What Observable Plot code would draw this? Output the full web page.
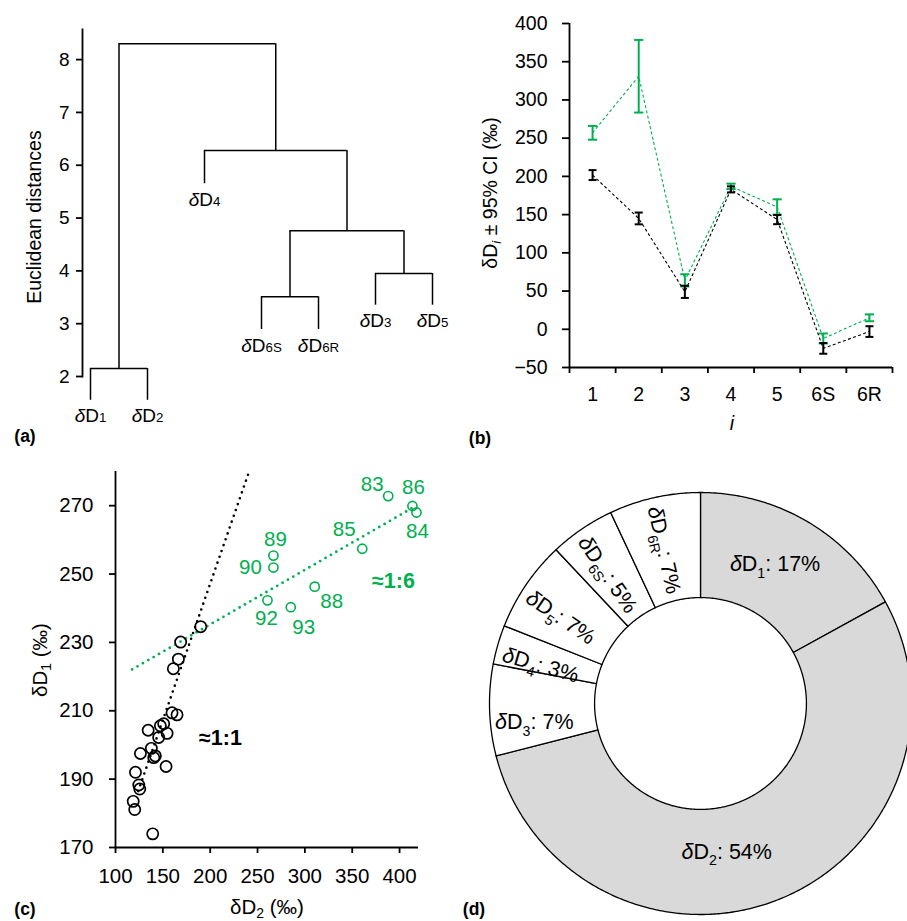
<!DOCTYPE html>
<html>
<head>
<meta charset="utf-8">
<script src="https://cdn.jsdelivr.net/npm/d3@7"></script>
<script src="https://cdn.jsdelivr.net/npm/@observablehq/plot@0.6"></script>
<style>
  html, body { margin: 0; padding: 0; background: #fff; }
  #root { position: relative; width: 907px; height: 921px; overflow: hidden;
          font-family: "Liberation Sans", Arial, sans-serif; color: #000; }
  .panel { position: absolute; }
  .lbl { position: absolute; white-space: nowrap; line-height: 1; transform: translate(-50%, -50%); }
  .rot { transform: translate(-50%, -50%) rotate(-90deg); }
  .lbl sub { font-size: 68%; vertical-align: -0.28em; line-height: 0; }
  .letter { font-weight: bold; font-size: 17.5px; }
</style>
</head>
<body>
<div id="root"></div>
<script>
// ---------------- data ----------------
// (a) dendrogram of site-specific deuterium ratios
const leafNames = ["1", "2", "4", "6S", "6R", "3", "5"];
const leafBase = [1.55, 1.55, 5.65, 2.89, 2.89, 3.35, 3.35];
const mergeLeft = [0, 3, 5, 8, 2, 7];      // node ids (leaves 0-6, merges 7-12)
const mergeRight = [1, 4, 6, 9, 10, 11];
const mergeHeight = [2.15, 3.51, 3.95, 4.76, 6.28, 8.30];
const distTicks = [2, 3, 4, 5, 6, 7, 8];

// (b) δDi ± 95% CI
const positions = ["1", "2", "3", "4", "5", "6S", "6R"];
const blackMean = [201.7, 145, 49, 183, 143.5, -25, -3];
const blackCI = [6.5, 7.7, 8, 4, 6, 7, 7];
const greenMean = [257, 331, 64, 187, 160, -12, 15];
const greenCI = [9, 47.5, 8, 3.5, 10, 6.5, 4.5];
const ciTicks = [-50, 0, 50, 100, 150, 200, 250, 300, 350, 400];

// (c) δD1 vs δD2
const blackD2 = [190, 168.8, 166.4, 161.1, 159.7, 165, 134.5, 147.4, 150.9, 145.6, 154.5, 126.3, 137.9, 140.4, 142.1, 153.4, 121.1, 124.6, 125.6, 118.7, 120.3, 139.3];
const blackD1 = [234.6, 230.1, 225.1, 222.3, 209.4, 208.8, 204.3, 205.6, 206.2, 202.2, 203.4, 197.5, 199, 196.3, 196.8, 193.7, 192, 188.3, 187.1, 183.5, 181.1, 174];
const greenYears = ["83", "86", "84", "85", "89", "90", "88", "92", "93"];
const greenD2 = [388, 413.6, 417.9, 360.6, 266.8, 266.8, 310.4, 260.5, 285.1];
const greenD1 = [272.8, 269.9, 268, 257.4, 255.4, 251.9, 246.3, 242.3, 240.3];
const trendBlackD2 = [124, 240.5];
const trendBlackD1 = [186.5, 279.5];
const trendGreenD2 = [117.6, 412.6];
const trendGreenD1 = [222.1, 269.2];
const ratioText = ["≈1:1", "≈1:6"];
const ratioD2 = [210.8, 393.6];
const ratioD1 = [201.9, 247.9];
const d2Ticks = [100, 150, 200, 250, 300, 350, 400];
const d1Ticks = [170, 190, 210, 230, 250, 270];

// (d) share of each position
const sliceNames = ["1", "2", "3", "4", "5", "6S", "6R"];
const slicePct = [17, 54, 7, 3, 7, 5, 7];

// ---------------- styling ----------------
const GREEN = "#00b050";
const GREY = "#d9d9d9";
const FONT = '"Liberation Sans", Arial, sans-serif';
const AX = 1.8;
const style = (fs) => ({fontFamily: FONT, fontSize: fs + "px", background: "transparent", color: "black"});
const intFmt = d3.format("d");

// rich text: *x* italic, _{x} lowered subscript, ~{x} small on baseline
function richify(root) {
  root.querySelectorAll("text").forEach(t => {
    const s = t.textContent;
    if (!/\*|_\{|~\{/.test(s)) return;
    const fs = parseFloat(getComputedStyle(t).fontSize) || 16;
    while (t.firstChild) t.removeChild(t.firstChild);
    const re = /\*([^*]+)\*|_\{([^}]+)\}|~\{([^}]+)\}|([^*_~]+|[*_~])/g;
    let m, shift = 0;
    while ((m = re.exec(s))) {
      const ts = document.createElementNS("http://www.w3.org/2000/svg", "tspan");
      if (m[1] != null) { ts.textContent = m[1]; ts.setAttribute("font-style", "italic"); }
      else if (m[2] != null) {
        ts.textContent = m[2]; ts.setAttribute("font-size", (fs * 0.66).toFixed(2));
        const d = fs * 0.3; ts.setAttribute("dy", d.toFixed(2)); shift += d;
      }
      else if (m[3] != null) { ts.textContent = m[3]; ts.setAttribute("font-size", (fs * 0.7).toFixed(2)); }
      else { ts.textContent = m[4]; }
      if (m[2] == null && shift) { ts.setAttribute("dy", (-shift).toFixed(2)); shift = 0; }
      t.appendChild(ts);
    }
  });
}

const root = document.getElementById("root");
function place(svg, left, top, w, h) {
  const div = document.createElement("div");
  div.className = "panel";
  div.style.left = left + "px"; div.style.top = top + "px";
  div.style.width = w + "px"; div.style.height = h + "px";
  div.appendChild(svg);
  root.appendChild(div);
  richify(div);
}

// ---------------- (a) dendrogram ----------------
const nodeX = leafNames.map((_, i) => i);
const nodeH = [...leafBase];
mergeHeight.forEach((h, k) => {
  nodeX.push((nodeX[mergeLeft[k]] + nodeX[mergeRight[k]]) / 2);
  nodeH.push(h);
});
const hSegs = mergeHeight.map((h, k) => ({x1: nodeX[mergeLeft[k]], x2: nodeX[mergeRight[k]], y: h}));
const vSegs = mergeHeight.flatMap((h, k) => [mergeLeft[k], mergeRight[k]].map(c => ({x: nodeX[c], y1: nodeH[c], y2: h})));
const leaves = leafNames.map((n, i) => ({n, i, base: leafBase[i]}));

const plotA = Plot.plot({
  width: 460, height: 440,
  marginLeft: 82, marginTop: 29, marginBottom: 64, marginRight: 20,
  x: {domain: [0, 6], range: [90, 432], axis: null},
  y: {domain: [2, 8.57]},
  style: style(19),
  marks: [
    Plot.frame({anchor: "left", strokeWidth: AX}),
    Plot.axisY({ticks: distTicks, tickFormat: intFmt, tickSize: 6, tickPadding: 7, fontSize: 19, label: null, strokeWidth: AX}),
    Plot.ruleY(hSegs, {y: "y", x1: "x1", x2: "x2", strokeWidth: 1.5}),
    Plot.ruleX(vSegs, {x: "x", y1: "y1", y2: "y2", strokeWidth: 1.5}),
    Plot.text(leaves, {x: "i", y: "base", text: d => `*δ*D~{${d.n}}`, dy: 16, lineAnchor: "middle", fontSize: 19})
  ]
});
place(plotA, 0, 0, 460, 440);

// ---------------- (b) error bars ----------------
const rowsB = (mean, ci) => positions.map((p, i) => ({p, xi: i + 0.5, mean: mean[i], lo: mean[i] - ci[i], hi: mean[i] + ci[i]}));
const blackRows = rowsB(blackMean, blackCI);
const greenRows = rowsB(greenMean, greenCI);
const cap = {draw(ctx, size) { const r = Math.sqrt(size / Math.PI); ctx.moveTo(-r, 0); ctx.lineTo(r, 0); }};
const seriesB = (rows, color, capR) => [
  Plot.line(rows, {x: "xi", y: "mean", stroke: color, strokeWidth: 1.1, strokeDasharray: "3,2.4", strokeLinecap: "butt"}),
  Plot.ruleX(rows, {x: "xi", y1: "lo", y2: "hi", stroke: color, strokeWidth: 2}),
  Plot.dot(rows, {x: "xi", y: "lo", symbol: cap, r: capR, stroke: color, strokeWidth: 2, fill: "none"}),
  Plot.dot(rows, {x: "xi", y: "hi", symbol: cap, r: capR, stroke: color, strokeWidth: 2, fill: "none"})
];
const plotB = Plot.plot({
  width: 447, height: 440,
  marginLeft: 109, marginTop: 23, marginBottom: 73, marginRight: 15,
  x: {domain: [0, positions.length]},
  y: {domain: [-50, 400]},
  style: style(19.5),
  marks: [
    Plot.axisY({ticks: ciTicks, tickFormat: intFmt, tickSize: 7, tickPadding: 15, fontSize: 19.5, label: null, strokeWidth: AX}),
    Plot.axisX({ticks: d3.range(0, positions.length + 1), tickSize: 6, tickFormat: () => "", label: null, strokeWidth: AX}),
    Plot.axisX({ticks: positions.map((_, i) => i + 0.5), tickSize: 0, tickPadding: 20, tickFormat: t => positions[Math.round(t - 0.5)], fontSize: 19.5, label: null}),
    Plot.ruleX([0], {strokeWidth: AX}),
    Plot.ruleY([-50], {strokeWidth: AX}),
    ...seriesB(greenRows, GREEN, 4.6),
    ...seriesB(blackRows, "black", 4)
  ]
});
place(plotB, 460, 0, 447, 440);

// ---------------- (c) scatter ----------------
const blackPts = blackD2.map((d2, i) => ({d2, d1: blackD1[i]}));
const greenPts = greenYears.map((yr, i) => ({yr, d2: greenD2[i], d1: greenD1[i]}));
const trendBlack = trendBlackD2.map((d2, i) => ({d2, d1: trendBlackD1[i]}));
const trendGreen = trendGreenD2.map((d2, i) => ({d2, d1: trendGreenD1[i]}));
const yearOffset = {"83": [-16, -12], "86": [1, -19], "84": [1, 19], "85": [-18, -19], "89": [2, -16],
                    "90": [-23, 0], "88": [17, 15], "92": [-1, 18], "93": [13, 20]};
const ratioColor = ["black", GREEN];
const plotC = Plot.plot({
  width: 460, height: 481,
  marginLeft: 115, marginTop: 31, marginBottom: 74, marginRight: 42,
  x: {domain: [100, 420]},
  y: {domain: [170, 280]},
  style: style(20.5),
  marks: [
    Plot.axisX({ticks: d2Ticks, tickFormat: intFmt, tickSize: 6, tickPadding: 15, fontSize: 20.5, label: null, strokeWidth: AX}),
    Plot.axisY({ticks: d1Ticks, tickFormat: intFmt, tickSize: 6, tickPadding: 16, fontSize: 20.5, label: null, strokeWidth: AX}),
    Plot.ruleX([100], {strokeWidth: AX}),
    Plot.ruleY([170], {strokeWidth: AX}),
    Plot.line(trendBlack, {x: "d2", y: "d1", stroke: "black", strokeWidth: 2.6, strokeDasharray: "0,6.2", strokeLinecap: "round"}),
    Plot.line(trendGreen, {x: "d2", y: "d1", stroke: GREEN, strokeWidth: 2.8, strokeDasharray: "0,6.2", strokeLinecap: "round"}),
    Plot.dot(blackPts, {x: "d2", y: "d1", r: 5.6, stroke: "black", strokeWidth: 1.7, fill: "none"}),
    Plot.dot(greenPts, {x: "d2", y: "d1", r: 4.6, stroke: GREEN, strokeWidth: 1.6, fill: "none"}),
    ...greenPts.map(p => Plot.text([p], {x: "d2", y: "d1", text: "yr", fill: GREEN, fontSize: 20.5,
      dx: yearOffset[p.yr][0], dy: yearOffset[p.yr][1], lineAnchor: "middle"})),
    Plot.text(ratioText.map((t, i) => ({t, i})), {x: d => ratioD2[d.i], y: d => ratioD1[d.i], text: "t",
      fill: d => ratioColor[d.i], fontWeight: "bold", fontSize: 21.5, lineAnchor: "middle"})
  ]
});
place(plotC, 0, 440, 460, 481);

// ---------------- (d) donut ----------------
const innerRatio = 0.502;
let cum = 0;
const slices = sliceNames.map((n, i) => {
  const a0 = cum / 100 * 2 * Math.PI; cum += slicePct[i];
  const a1 = cum / 100 * 2 * Math.PI;
  return {n, i, pct: slicePct[i], a0, a1, mid: (a0 + a1) / 2};
});
const polyPts = slices.flatMap(s => {
  const steps = Math.max(6, Math.ceil((s.a1 - s.a0) / (Math.PI / 360)));
  const pts = [];
  for (let k = 0; k <= steps; k++) { const a = s.a0 + (s.a1 - s.a0) * k / steps; pts.push({n: s.n, i: s.i, x: Math.sin(a), y: Math.cos(a)}); }
  for (let k = steps; k >= 0; k--) { const a = s.a0 + (s.a1 - s.a0) * k / steps; pts.push({n: s.n, i: s.i, x: innerRatio * Math.sin(a), y: innerRatio * Math.cos(a)}); }
  return pts;
});
const shaded = new Set(["1", "2"]);
const radialLabel = new Set(["4", "5", "6S", "6R"]);
const sliceLabelOffset = {"1": [-6, -3], "2": [-32, 1], "3": [-8, 14], "4": [-8, 6], "5": [-9, 3], "6S": [-4, 2], "6R": [-2, 1]};
const labelR = 0.75;
const plotD = Plot.plot({
  width: 447, height: 481,
  margin: 0,
  x: {domain: [-1, 1], range: [29, 451], axis: null},
  y: {domain: [-1, 1], range: [474, 52], axis: null},
  style: style(21.5),
  marks: [
    Plot.line(polyPts.filter(d => shaded.has(d.n)), {x: "x", y: "y", z: "n", fill: GREY, stroke: "black", strokeWidth: 1.3, curve: "linear-closed"}),
    Plot.line(polyPts.filter(d => !shaded.has(d.n)), {x: "x", y: "y", z: "n", fill: "white", stroke: "black", strokeWidth: 1.3, curve: "linear-closed"}),
    ...slices.map(s => Plot.text([s], {
      x: d => labelR * Math.sin(d.mid), y: d => labelR * Math.cos(d.mid),
      text: d => `*δ*D_{${d.n}}: ${d.pct}%`,
      rotate: radialLabel.has(s.n) ? s.mid * 180 / Math.PI - 270 : 0,
      dx: sliceLabelOffset[s.n][0], dy: sliceLabelOffset[s.n][1],
      fontSize: 21.5, lineAnchor: "middle"
    }))
  ]
});
place(plotD, 460, 440, 447, 481);

// ---------------- titles and panel letters ----------------
const labels = [
  {html: "Euclidean distances", x: 35, y: 217, fs: 19.5, rot: true},
  {html: "δD<sub><i>i</i></sub> ± 95% CI (‰)", x: 491, y: 193, fs: 19.5, rot: true},
  {html: "<i>i</i>", x: 732, y: 424, fs: 19.5},
  {html: "δD<sub>1</sub> (‰)", x: 40, y: 660, fs: 20.5, rot: true},
  {html: "δD<sub>2</sub> (‰)", x: 267, y: 907, fs: 20.5},
  {html: "(a)", x: 25, y: 437, letter: true},
  {html: "(b)", x: 480, y: 439, letter: true},
  {html: "(c)", x: 25, y: 910, letter: true},
  {html: "(d)", x: 474, y: 910, letter: true}
];
labels.forEach(l => {
  const el = document.createElement("div");
  el.className = "lbl" + (l.rot ? " rot" : "") + (l.letter ? " letter" : "");
  el.innerHTML = l.html;
  el.style.left = l.x + "px"; el.style.top = l.y + "px";
  if (l.fs) el.style.fontSize = l.fs + "px";
  root.appendChild(el);
});
</script>
</body>
</html>
